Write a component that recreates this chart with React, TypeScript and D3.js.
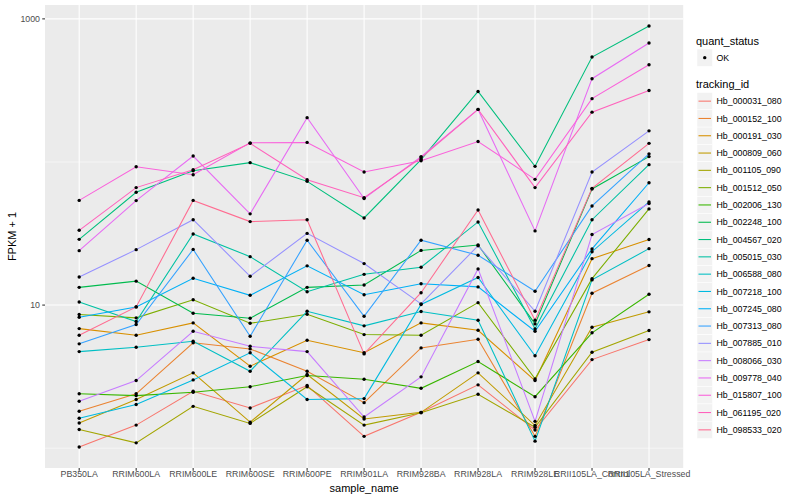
import React from "react";
import * as d3 from "d3";

const categories = [
  "PB350LA", "RRIM600LA", "RRIM600LE", "RRIM600SE", "RRIM600PE", "RRIM901LA",
  "RRIM928BA", "RRIM928LA", "RRIM928LE", "RRII105LA_Control", "RRII105LA_Stressed",
];

const trackingIds = [
  "Hb_000031_080", "Hb_000152_100", "Hb_000191_030", "Hb_000809_060", "Hb_001105_090",
  "Hb_001512_050", "Hb_002006_130", "Hb_002248_100", "Hb_004567_020", "Hb_005015_030",
  "Hb_006588_080", "Hb_007218_100", "Hb_007245_080", "Hb_007313_080", "Hb_007885_010",
  "Hb_008066_030", "Hb_009778_040", "Hb_015807_100", "Hb_061195_020", "Hb_098533_020",
];

const hb000031_080 = [1.02, 1.45, 2.5, 1.91, 2.74, 1.21, 1.78, 2.77, 1.34, 4.16, 5.74];
const hb000152_100 = [1.81, 2.4, 5.45, 4.94, 3.45, 2.08, 5.02, 5.77, 1.21, 12.1, 18.9];
const hb000191_030 = [6.85, 6.15, 7.51, 3.74, 5.68, 4.64, 7.51, 6.67, 2.97, 21.1, 28.7];
const hb000809_060 = [1.5, 2.19, 3.36, 1.52, 3.27, 1.6, 1.78, 3.36, 1.44, 7.0, 8.97];
const hb001105_090 = [1.35, 1.09, 1.96, 1.49, 2.69, 1.45, 1.77, 2.38, 1.4, 4.68, 6.64];
const hb001512_050 = [8.59, 8.14, 10.9, 7.46, 8.63, 6.22, 6.15, 10.4, 3.05, 15.3, 47.0];
const hb002006_130 = [2.4, 2.33, 2.46, 2.69, 3.22, 3.03, 2.62, 4.03, 2.29, 6.4, 11.9];
const hb002248_100 = [13.3, 14.7, 8.77, 8.09, 13.3, 13.8, 24.1, 26.3, 7.39, 64.8, 109];
const hb004567_020 = [28.8, 61.4, 86.9, 98.9, 73.2, 40.6, 104, 311, 93.2, 541, 891];
const hb005015_030 = [10.5, 7.67, 31.4, 21.8, 12.4, 16.4, 18.4, 38.1, 6.82, 39.5, 95.8];
const hb006588_080 = [4.73, 5.07, 5.59, 3.45, 9.05, 7.16, 9.01, 7.83, 1.12, 15.0, 24.8];
const hb007218_100 = [1.62, 2.02, 3.0, 4.64, 2.19, 2.22, 10.1, 15.6, 4.42, 23.6, 52.6];
const hb007245_080 = [8.22, 9.71, 15.4, 11.7, 18.8, 11.8, 14.1, 13.4, 6.56, 24.7, 71.6];
const hb007313_080 = [5.36, 7.31, 24.5, 6.05, 28.4, 8.35, 28.4, 22.3, 12.5, 49.3, 114];
const hb007885_010 = [15.7, 24.4, 39.5, 15.9, 31.7, 19.5, 10.2, 26.0, 9.05, 85.1, 165];
const hb008066_030 = [2.13, 2.97, 6.56, 5.15, 4.73, 1.65, 3.15, 17.9, 1.54, 31.1, 51.2];
const hb009778_040 = [24.0, 53.7, 110, 43.4, 204, 55.5, 109, 233, 33.0, 382, 678];
const hb015807_100 = [53.9, 92.7, 81.5, 136, 137, 85.1, 102, 139, 75.6, 277, 478];
const hb061195_020 = [33.3, 66.2, 88.3, 135, 75.2, 56.3, 107, 233, 66.2, 223, 316];
const hb098533_020 = [6.15, 9.71, 53.9, 38.3, 39.5, 4.56, 12.2, 46.2, 7.83, 65.4, 135];

const seriesValues = [
  hb000031_080, hb000152_100, hb000191_030, hb000809_060, hb001105_090,
  hb001512_050, hb002006_130, hb002248_100, hb004567_020, hb005015_030,
  hb006588_080, hb007218_100, hb007245_080, hb007313_080, hb007885_010,
  hb008066_030, hb009778_040, hb015807_100, hb061195_020, hb098533_020,
];

const yTicks = [10, 1000];
const yMinor = [1, 100];

const palette = [
  "#F8766D", "#EA8331", "#D89000", "#C09B00", "#A3A500", "#7CAE00", "#39B600",
  "#00BB4E", "#00BF7D", "#00C1A3", "#00BFC4", "#00BAE0", "#00B0F6", "#35A2FF",
  "#9590FF", "#C77CFF", "#E76BF3", "#FA62DB", "#FF62BC", "#FF6C91",
];

const FONT = "'Liberation Sans', Arial, Helvetica, sans-serif";

export default function App() {
  const W = 800, H = 500;
  const pL = 45, pR = 683.2, pT = 5, pB = 468;

  const x = d3.scalePoint<string>().domain(categories).range([pL, pR]).padding(0.6);

  const all = seriesValues.flat();
  const lo = Math.log10(d3.min(all) as number);
  const hi = Math.log10(d3.max(all) as number);
  const ex = (hi - lo) * 0.05;
  const y = d3.scaleLog().domain([10 ** (lo - ex), 10 ** (hi + ex)]).range([pB, pT]);

  const line = d3.line<number>()
    .x((_, i) => x(categories[i]) as number)
    .y((d) => y(d));

  const legX = 697;
  const keyW = 15.5;
  const keyH = 17.3;
  const trackTop = 92.5;

  return (
    <div style={{ position: "fixed", left: 0, top: 0, width: W, height: H, background: "#fff" }}>
      <svg width={W} height={H} style={{ display: "block", fontFamily: FONT }}>
        <rect x={0} y={0} width={W} height={H} fill="#fff" />
        <rect x={pL} y={pT} width={pR - pL} height={pB - pT} fill="#EBEBEB" />
        {yMinor.map((t) => (
          <line key={"mn" + t} x1={pL} x2={pR} y1={y(t)} y2={y(t)} stroke="#fff" strokeWidth={0.55} />
        ))}
        {yTicks.map((t) => (
          <line key={"mj" + t} x1={pL} x2={pR} y1={y(t)} y2={y(t)} stroke="#fff" strokeWidth={1.07} />
        ))}
        {categories.map((c) => (
          <line key={"gx" + c} x1={x(c)} x2={x(c)} y1={pT} y2={pB} stroke="#fff" strokeWidth={1.07} />
        ))}
        {seriesValues.map((vals, i) => (
          <path key={"ln" + i} d={line(vals) as string} fill="none" stroke={palette[i]} strokeWidth={1.07} />
        ))}
        {seriesValues.map((vals, i) =>
          vals.map((v, j) => (
            <circle key={"pt" + i + "-" + j} cx={x(categories[j])} cy={y(v)} r={1.7} fill="#000" />
          ))
        )}
        {/* y axis */}
        {yTicks.map((t) => (
          <g key={"yt" + t}>
            <line x1={pL - 2.75} x2={pL} y1={y(t)} y2={y(t)} stroke="#333" strokeWidth={1.07} />
            <text x={pL - 5} y={y(t)} dy="0.35em" textAnchor="end" fontSize={8.8} fill="#4D4D4D">
              {t}
            </text>
          </g>
        ))}
        {/* x axis */}
        {categories.map((c) => (
          <g key={"xt" + c}>
            <line x1={x(c)} x2={x(c)} y1={pB} y2={pB + 2.75} stroke="#333" strokeWidth={1.07} />
            <text x={x(c)} y={pB + 9.3} textAnchor="middle" fontSize={8.8} fill="#4D4D4D">
              {c}
            </text>
          </g>
        ))}
        <text x={(pL + pR) / 2} y={491.5} textAnchor="middle" fontSize={11} fill="#000">
          sample_name
        </text>
        <text
          transform={`translate(15.5, ${(pT + pB) / 2}) rotate(-90)`}
          textAnchor="middle"
          fontSize={11}
          fill="#000"
        >
          FPKM + 1
        </text>
        {/* legend: quant_status */}
        <text x={696} y={44.5} fontSize={11} fill="#000">quant_status</text>
        <rect x={legX} y={49} width={keyW} height={keyH} fill="#F2F2F2" stroke="#fff" strokeWidth={0.5} />
        <circle cx={legX + keyW / 2} cy={49 + keyH / 2} r={1.7} fill="#000" />
        <text x={716.5} y={49 + keyH / 2} dy="0.35em" fontSize={8.8} fill="#000">OK</text>
        {/* legend: tracking_id */}
        <text x={696} y={88} fontSize={11} fill="#000">tracking_id</text>
        {trackingIds.map((id, i) => {
          const ky = trackTop + i * keyH;
          return (
            <g key={"lg" + id}>
              <rect x={legX} y={ky} width={keyW} height={keyH} fill="#F2F2F2" stroke="#fff" strokeWidth={0.5} />
              <line x1={legX + 1.5} x2={legX + keyW - 1.5} y1={ky + keyH / 2} y2={ky + keyH / 2} stroke={palette[i]} strokeWidth={1.07} />
              <text x={716.5} y={ky + keyH / 2} dy="0.35em" fontSize={8.8} fill="#000">{id}</text>
            </g>
          );
        })}
      </svg>
    </div>
  );
}
